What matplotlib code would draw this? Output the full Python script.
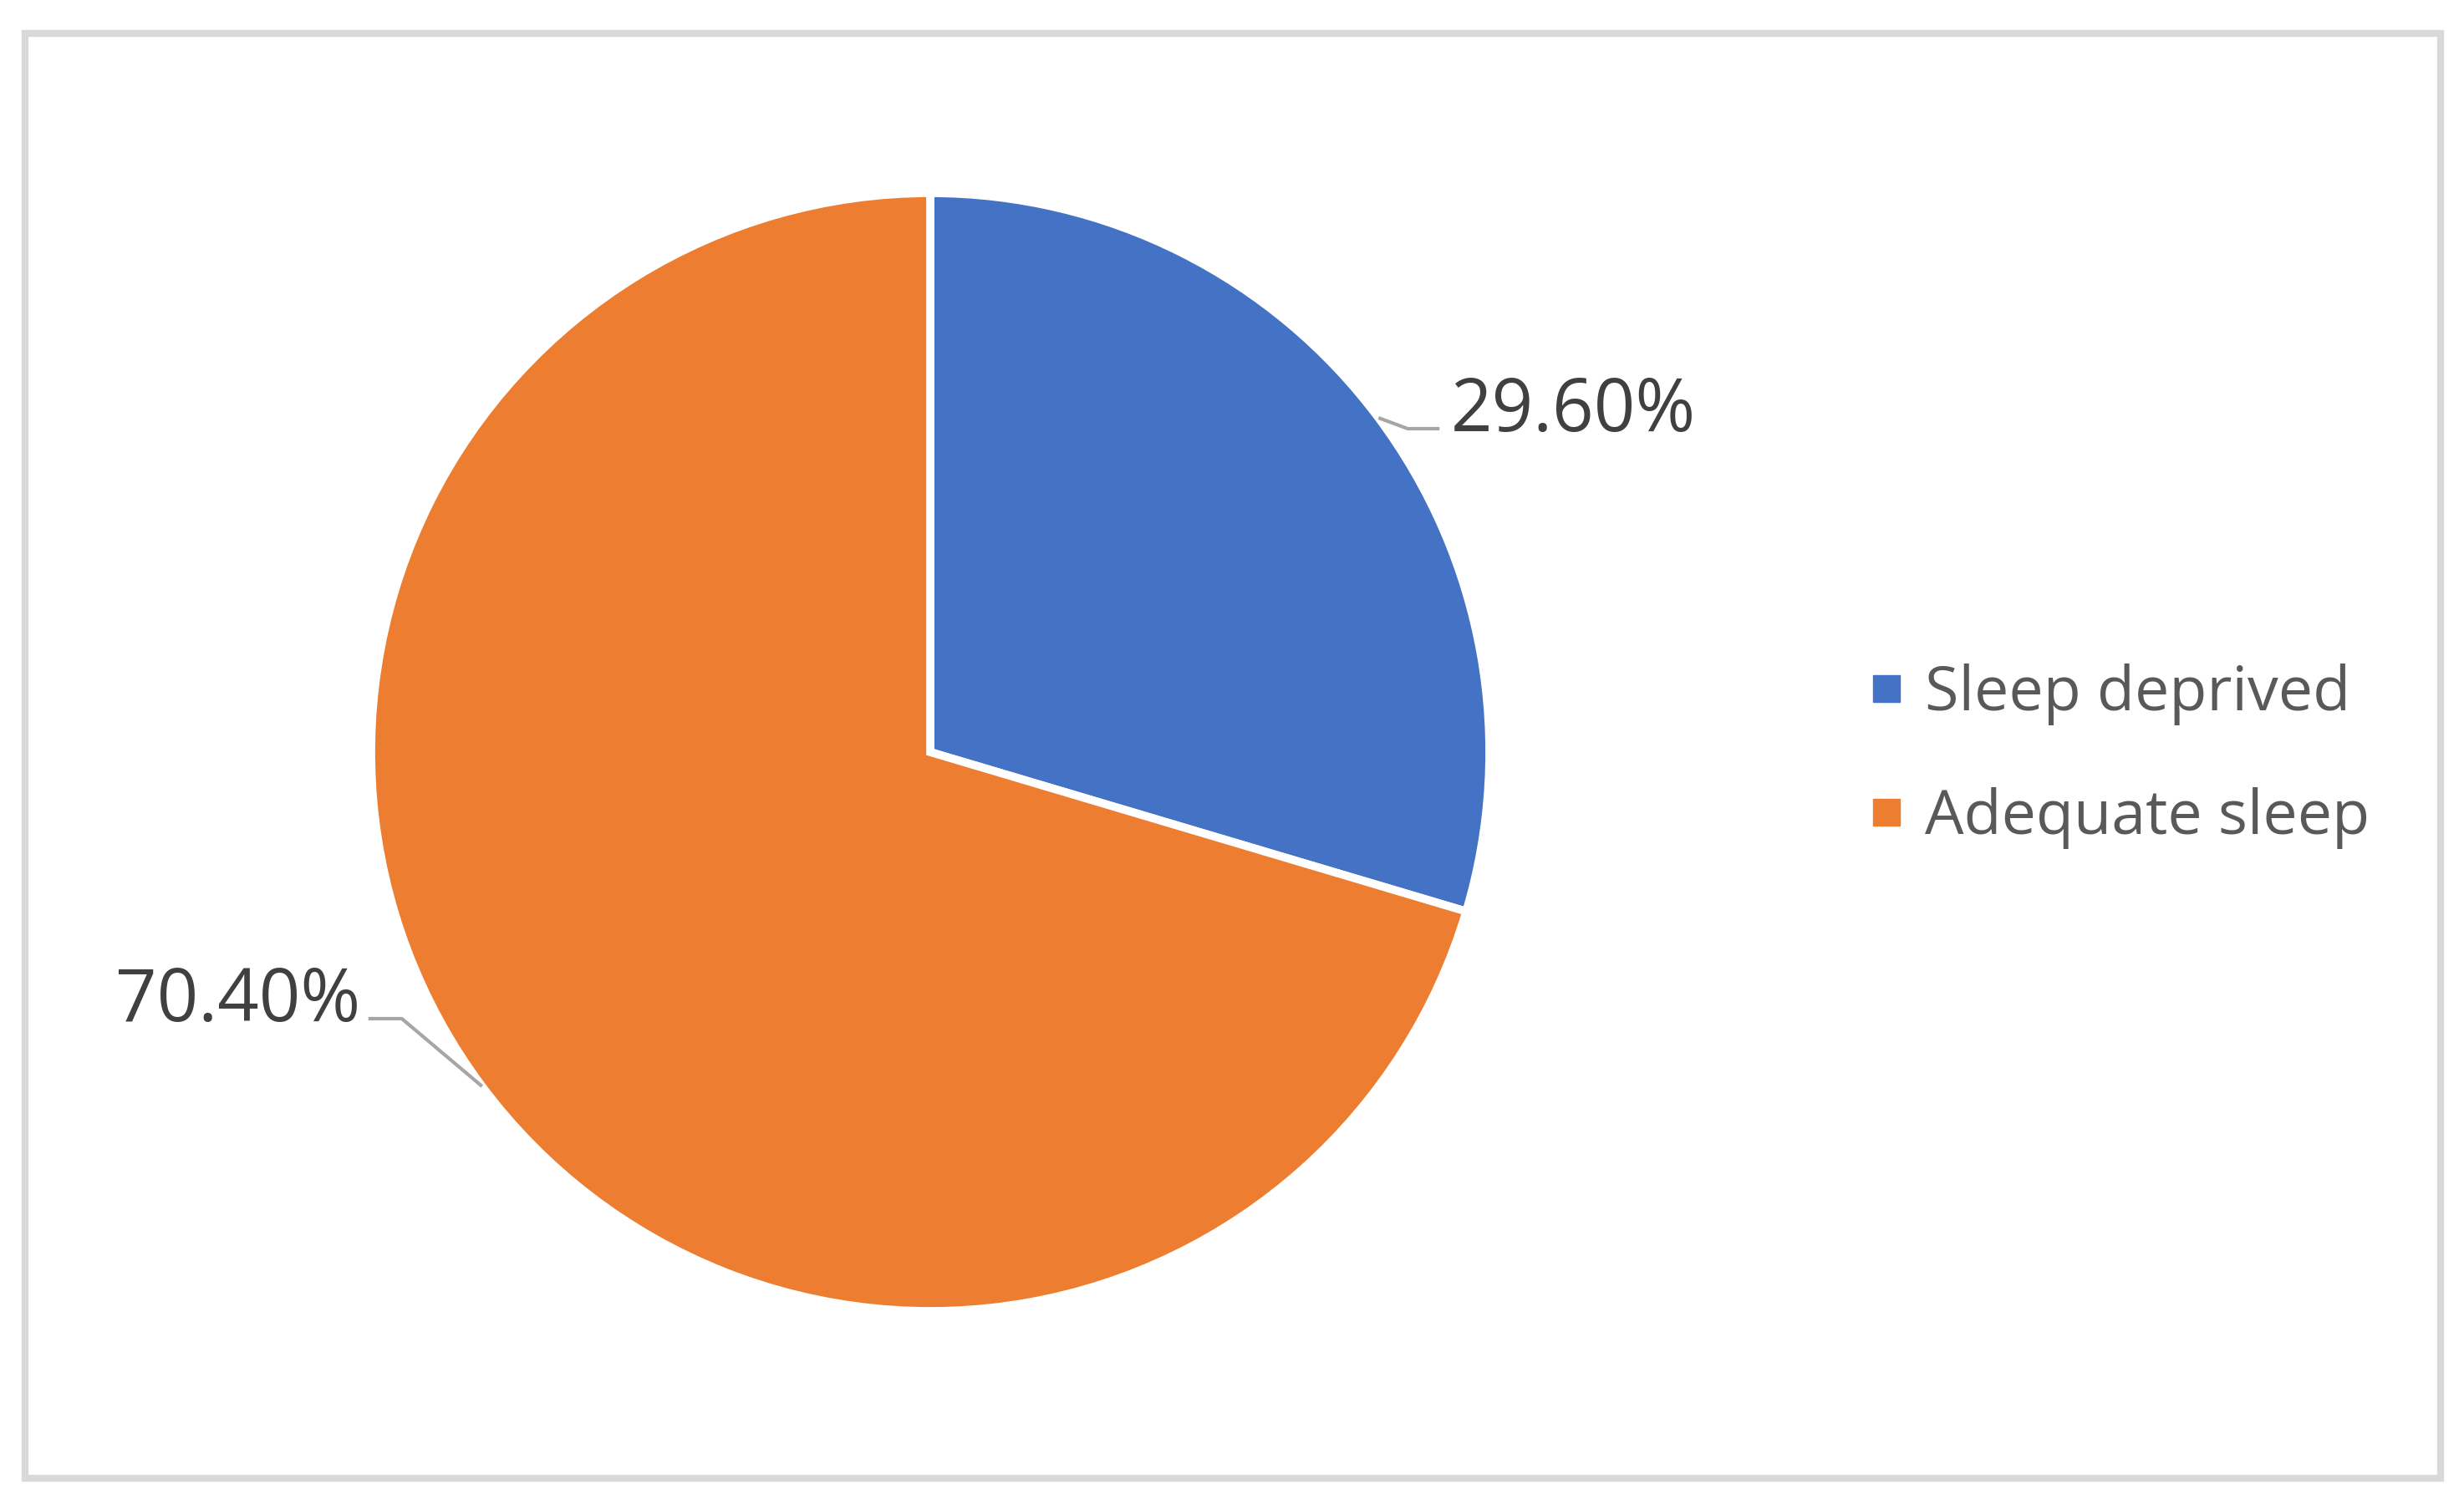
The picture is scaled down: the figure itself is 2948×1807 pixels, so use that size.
"""Sleep status pie chart: sleep deprived vs adequate sleep."""
import numpy as np
import matplotlib
matplotlib.use("Agg")
import matplotlib.pyplot as plt
from matplotlib.lines import Line2D
from matplotlib.patches import Rectangle

labels = ["Sleep deprived", "Adequate sleep"]
shares = [29.60, 70.40]
colors = ["#4472C4", "#ED7D31"]

W, H = 2948, 1807
fig = plt.figure(figsize=(W / 100, H / 100), dpi=100)
ax = fig.add_axes([0, 0, 1, 1])

cx, cy, r = 1113, H - 900, 669
wedges, _ = ax.pie(shares, colors=colors, startangle=90, counterclock=False,
                   center=(cx, cy), radius=r, frame=True,
                   wedgeprops=dict(edgecolor="white", linewidth=7))
ax.set_xlim(0, W); ax.set_ylim(0, H)
ax.set_aspect("equal"); ax.axis("off")

# data labels with elbow leader lines (elbow offset, horizontal run) in pixels
offsets = [((35, -13), (38, 0)), ((-96, 81), (-40, 0))]
for w, val, (el, hz) in zip(wedges, shares, offsets):
    ang = np.deg2rad((w.theta1 + w.theta2) / 2)
    x0, y0 = cx + r * np.cos(ang), cy + r * np.sin(ang)
    x1, y1 = x0 + el[0], y0 + el[1]
    x2 = x1 + hz[0]
    ax.plot([x0, x1, x2], [y0, y1, y1], color="#a6a6a6", lw=3,
            solid_capstyle="butt")
    ha = "left" if hz[0] > 0 else "right"
    ax.text(x2 + (14 if ha == "left" else -10), y1 - 3, f"{val:.2f}%",
            ha=ha, va="baseline", fontsize=62.5, color="#404040",
            family="Open Sans")

handles = [Line2D([], [], ls="", marker="s", ms=23, mfc=c, mec=c) for c in colors]
fig.legend(handles, labels, loc="center left", bbox_to_anchor=(2174 / W, 1 - 905 / H),
           frameon=False, labelcolor="#595959", handlelength=0.45,
           handletextpad=0.4, labelspacing=1.0,
           prop=dict(family="Open Sans", size=53))

fig.patches.append(Rectangle((30, 38), 2890, 1729, transform=None, fill=False,
                             edgecolor="#d9d9d9", lw=6))
fig.savefig("out.png", dpi=100)
